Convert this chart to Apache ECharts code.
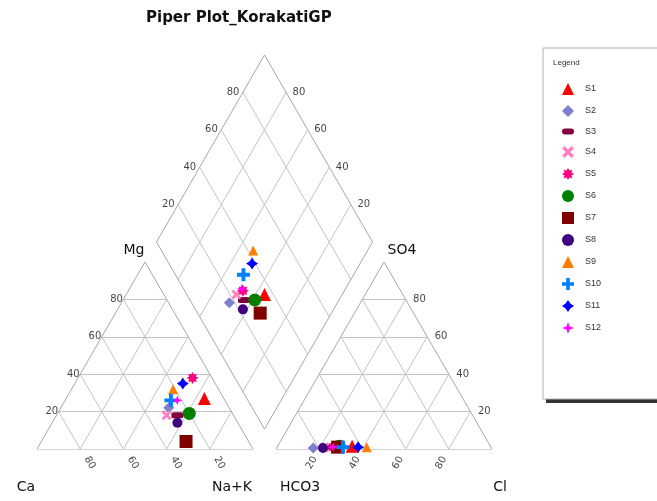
<!DOCTYPE html>
<html>
<head>
<meta charset="utf-8">
<script src="https://cdn.jsdelivr.net/npm/echarts@6/dist/echarts.min.js"></script>
<style>
html, body { margin: 0; padding: 0; background: #fff; }
#chart { width: 657px; height: 501px; }
</style>
</head>
<body>
<div id="chart"></div>
<script>
// sample names
var samples = ['S1', 'S2', 'S3', 'S4', 'S5', 'S6', 'S7', 'S8', 'S9', 'S10', 'S11', 'S12'];
// cations, % meq
var ca  = [9, 28, 26, 31, 9, 20, 29, 28, 21, 25, 15, 22];
var mg  = [27, 22, 18, 18, 38, 19, 4, 14, 32, 26, 35, 26];
var naK = [64, 50, 56, 51, 53, 61, 67, 58, 47, 49, 50, 52];
// anions, % meq
var hco3 = [64, 82.5, 75, 77, 73, 70, 71, 78, 57.5, 68.5, 61.5, 73];
var so4  = [1.5, 0.5, 1, 1, 1, 1.5, 1, 0.5, 1, 1, 1, 1];
var cl   = [34.5, 17, 24, 22, 26, 28.5, 28, 21.5, 41.5, 30.5, 37.5, 26];
// tick labels on every axis
var ticks = [20, 40, 60, 80];

var GAP = 10.65;
var H = Math.sqrt(3) / 2;
function cat(c, m, n) { return [n + m / 2, m * H]; }
function ani(h, s, c) { return [100 + GAP + c + s / 2, s * H]; }
function dia(cm, sc) { return [100 + GAP / 2 + (sc - cm) / 2, GAP * H + (cm + sc) * H]; }

var marks = [
    {symbol: 'triangle', size: 13, color: '#ff0000'},
    {symbol: 'diamond', size: 11, color: '#7f7fcf'},
    {symbol: 'roundRect', size: [12, 6], color: '#800040'},
    {symbol: 'path://M2,0 L5,3 L8,0 L10,2 L7,5 L10,8 L8,10 L5,7 L2,10 L0,8 L3,5 L0,2 Z', size: 10, color: '#ff80c0'},
    {symbol: 'path://M5,0 L6.2,2.1 L8.5,1.5 L7.9,3.8 L10,5 L7.9,6.2 L8.5,8.5 L6.2,7.9 L5,10 L3.8,7.9 L1.5,8.5 L2.1,6.2 L0,5 L2.1,3.8 L1.5,1.5 L3.8,2.1 Z', size: 12, color: '#ff0080'},
    {symbol: 'circle', size: 13, color: '#008000'},
    {symbol: 'rect', size: 13, color: '#800000'},
    {symbol: 'circle', size: 10, color: '#400080'},
    {symbol: 'triangle', size: 10, color: '#ff8000'},
    {symbol: 'path://M3.5,0 H6.5 V3.5 H10 V6.5 H6.5 V10 H3.5 V6.5 H0 V3.5 H3.5 Z', size: 13, color: '#0080ff'},
    {symbol: 'path://M5,0 L7,3 L10,5 L7,7 L5,10 L3,7 L0,5 L3,3 Z', size: 12, color: '#0000ff'},
    {symbol: 'path://M5,0 L6.3,3.7 L10,5 L6.3,6.3 L5,10 L3.7,6.3 L0,5 L3.7,3.7 Z', size: 10, color: '#ff00ff'}
];

// grid lines inside the triangles and the diamond
var gridSegs = [];
ticks.forEach(function (v) {
    gridSegs.push({coords: [cat(100 - v, v, 0), cat(0, v, 100 - v)]});
    gridSegs.push({coords: [cat(v, 0, 100 - v), cat(v, 100 - v, 0)]});
    gridSegs.push({coords: [cat(100 - v, 0, v), cat(0, 100 - v, v)]});
    gridSegs.push({coords: [ani(100 - v, v, 0), ani(0, v, 100 - v)]});
    gridSegs.push({coords: [ani(v, 0, 100 - v), ani(v, 100 - v, 0)]});
    gridSegs.push({coords: [ani(100 - v, 0, v), ani(0, 100 - v, v)]});
    gridSegs.push({coords: [dia(v, 0), dia(v, 100)]});
    gridSegs.push({coords: [dia(0, v), dia(100, v)]});
});
var frame = [
    [cat(100, 0, 0), cat(0, 0, 100)], [cat(0, 0, 100), cat(0, 100, 0)], [cat(0, 100, 0), cat(100, 0, 0)],
    [ani(100, 0, 0), ani(0, 0, 100)], [ani(0, 0, 100), ani(0, 100, 0)], [ani(0, 100, 0), ani(100, 0, 0)],
    [dia(0, 0), dia(100, 0)], [dia(100, 0), dia(100, 100)], [dia(100, 100), dia(0, 100)], [dia(0, 100), dia(0, 0)]
].map(function (c) { return {coords: c}; });

// tick labels
var tickLabels = [];
ticks.forEach(function (v) {
    var t = String(v);
    var p;
    tickLabels.push({name: t, value: cat(100 - v, v, 0), label: {position: 'left', distance: 0}});
    p = cat(v, 0, 100 - v);
    tickLabels.push({name: t, value: [p[0] + 4.4, p[1] - 6.4], label: {position: 'inside', rotate: -60}});
    p = ani(100 - v, 0, v);
    tickLabels.push({name: t, value: [p[0] - 3.5, p[1] - 6.4], label: {position: 'inside', rotate: 60}});
    tickLabels.push({name: t, value: ani(0, v, 100 - v), label: {position: 'right', distance: 7}});
    tickLabels.push({name: t, value: dia(100, v), label: {position: 'left', distance: 3}});
    tickLabels.push({name: t, value: dia(v, 100), label: {position: 'right', distance: 6}});
});

var series = [
    {type: 'lines', coordinateSystem: 'cartesian2d', silent: true, z: 1,
     lineStyle: {color: '#c4c4c4', width: 1, opacity: 1}, data: gridSegs},
    {type: 'lines', coordinateSystem: 'cartesian2d', silent: true, z: 1,
     lineStyle: {color: '#a8a8a8', width: 1, opacity: 1}, data: frame},
    {type: 'scatter', silent: true, clip: false, symbolSize: 1, z: 1,
     itemStyle: {color: 'rgba(0,0,0,0)'},
     label: {show: true, formatter: '{b}', fontSize: 10, color: '#111', fontFamily: 'DejaVu Sans'},
     data: tickLabels}
];
samples.forEach(function (s, i) {
    series.push({
        name: s,
        type: 'scatter',
        clip: false,
        symbol: marks[i].symbol,
        symbolSize: marks[i].size,
        itemStyle: {color: marks[i].color, opacity: 1},
        z: 3,
        data: [
            cat(ca[i], mg[i], naK[i]),
            ani(hco3[i], so4[i], cl[i]),
            dia(ca[i] + mg[i], so4[i] + cl[i])
        ]
    });
});

var legendData = samples.map(function (s) {
    if (s === 'S3') return {name: s, icon: 'path://M3,0 H9 A3,3 0 0 1 9,6 H3 A3,3 0 0 1 3,0 Z'};
    return {name: s};
});

function txt(x, y, s, size) {
    return {type: 'text', x: x, y: y, silent: true,
        style: {text: s, fontSize: size, fill: '#111', fontFamily: 'DejaVu Sans',
            align: 'center', verticalAlign: 'middle'}};
}

var chart = echarts.init(document.getElementById('chart'));
chart.setOption({
    animation: false,
    backgroundColor: '#fff',
    title: {
        text: 'Piper Plot_KorakatiGP', left: 141, top: 6,
        textStyle: {fontSize: 15, fontWeight: 'bold', color: '#111', fontFamily: 'DejaVu Sans'}
    },
    grid: {left: 37, top: 38.6, width: 496.8, height: 410.4, show: false},
    xAxis: {type: 'value', min: 0, max: 230, show: false},
    yAxis: {type: 'value', min: 0, max: 190, show: false},
    legend: {
        orient: 'vertical', left: 557, top: 78,
        itemWidth: 12, itemHeight: 12, itemGap: 10,
        textStyle: {fontSize: 9, color: '#333', fontFamily: 'Liberation Sans', padding: [0, 0, 0, 6]},
        data: legendData
    },
    graphic: [
        {type: 'rect', z: -2, silent: true, shape: {x: 546, y: 398, width: 140, height: 5},
         style: {fill: '#333'}},
        {type: 'rect', z: -1, silent: true, shape: {x: 543, y: 48, width: 140, height: 351},
         style: {fill: '#fff', stroke: '#b0b0b0', lineWidth: 1}},
        {type: 'text', x: 553, y: 63, silent: true,
         style: {text: 'Legend', fontSize: 8, fill: '#333', fontFamily: 'Liberation Sans', verticalAlign: 'middle'}},
        txt(134, 250, 'Mg', 14),
        txt(402, 250, 'SO4', 14),
        txt(26, 487, 'Ca', 14),
        txt(232, 487, 'Na+K', 14),
        txt(300, 487, 'HCO3', 14),
        txt(500, 487, 'Cl', 14)
    ],
    series: series
});
</script>
</body>
</html>
